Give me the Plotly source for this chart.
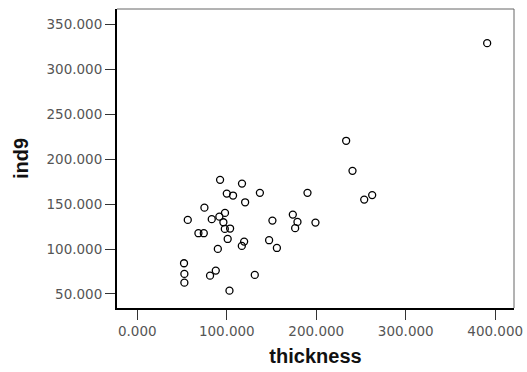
import plotly.graph_objects as go

thickness = [92.5, 117, 100, 107, 137, 120.5, 75, 98, 91.7, 56.4, 83.2, 96.2, 97.8, 103.7,
             68.3, 74.3, 101, 119.4, 116.8, 90, 151, 147.3, 156, 173.8, 179, 176.4, 190.2,
             199.1, 240.5, 253.6, 262.5, 52.2, 52.6, 52.6, 87.7, 81.3, 131.3, 103, 233.4, 391]
ind9 = [177, 172.8, 161.7, 159.5, 162.5, 152, 146, 140.2, 136, 132.4, 133.2, 129.8, 122.4, 122.8,
        117.6, 117.6, 111.2, 108.3, 103.5, 100.1, 131.6, 109.8, 101.2, 138.3, 130.2, 123.2, 162.5,
        129.4, 187, 155, 160, 84.2, 72.3, 62.6, 76, 70.4, 71.2, 53.7, 220.4, 329]

tick_vals_x = [0, 100, 200, 300, 400]
tick_vals_y = [50, 100, 150, 200, 250, 300, 350]

fig = go.Figure(go.Scatter(
    x=thickness, y=ind9, mode="markers",
    marker=dict(symbol="circle-open", size=7, color="black", line=dict(width=1.3)),
    showlegend=False,
))

tickfont = dict(family="DejaVu Sans", size=13.5, color="#555")
titlefont = dict(family="Liberation Sans, Arial", size=20, color="#111")
fig.update_layout(
    width=527, height=372,
    margin=dict(l=117, r=13, t=9, b=64),
    paper_bgcolor="white", plot_bgcolor="white",
    xaxis=dict(
        range=[-22.7, 421], tickvals=tick_vals_x,
        ticktext=[f"{v:.3f}" for v in tick_vals_x],
        ticks="outside", ticklen=10, tickwidth=1.2, tickcolor="#333",
        showline=True, linecolor="black", linewidth=2, showgrid=False, zeroline=False,
        tickfont=tickfont, automargin=False,
        title=dict(text="<b>thickness</b>", font=titlefont, standoff=11),
    ),
    yaxis=dict(
        range=[34.4, 367], tickvals=tick_vals_y,
        ticktext=[f"{v:.3f}" for v in tick_vals_y],
        ticks="outside", ticklen=10, tickwidth=1.2, tickcolor="#333",
        showline=True, linecolor="black", linewidth=2, showgrid=False, zeroline=False,
        tickfont=tickfont, automargin=False,
        title=dict(text="<b>ind9</b>", font=titlefont, standoff=12),
    ),
    shapes=[
        dict(type="line", xref="paper", yref="paper", x0=0, x1=1, y0=1, y1=1,
             line=dict(color="#666", width=1)),
        dict(type="line", xref="paper", yref="paper", x0=1, x1=1, y0=0, y1=1,
             line=dict(color="#666", width=1)),
    ],
)

fig.write_html("out.html", config={"displayModeBar": False},
               post_script="document.body.style.margin='0';")
